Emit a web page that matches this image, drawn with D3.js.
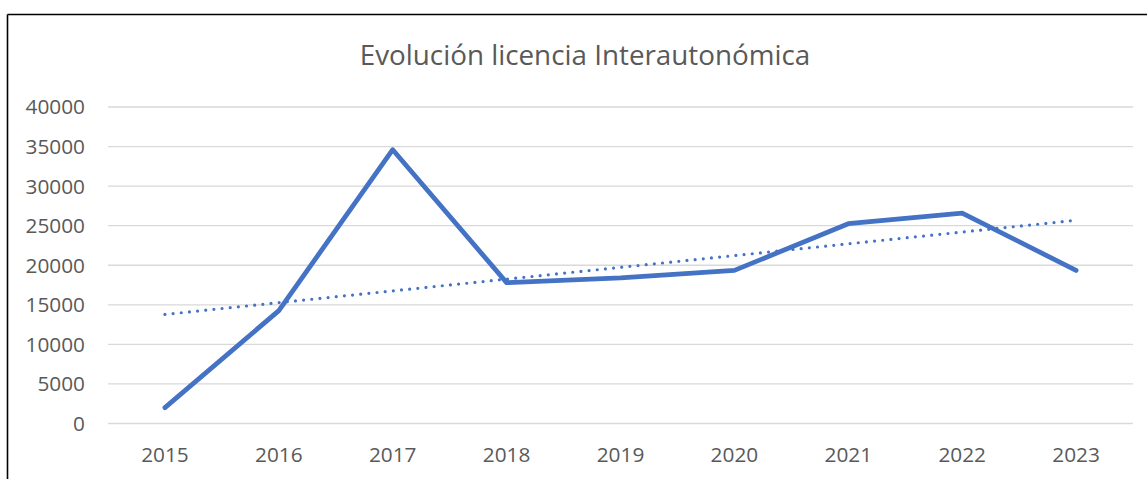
<!DOCTYPE html>
<html>
<head>
<meta charset="utf-8">
<script src="https://cdn.jsdelivr.net/npm/d3@7"></script>
<style>
  html, body { margin: 0; padding: 0; background: #fff; }
  svg { display: block; }
</style>
</head>
<body>
<div id="chart"></div>
<script>
// datos
const years = ["2015", "2016", "2017", "2018", "2019", "2020", "2021", "2022", "2023"];
const licencias = [2000, 14270, 34600, 17800, 18400, 19350, 25250, 26600, 19350];
const yTicks = [0, 5000, 10000, 15000, 20000, 25000, 30000, 35000, 40000];
const title = "Evolución licencia Interautonómica";

const width = 1147, height = 479;
const margin = { top: 107, right: 14, bottom: 55, left: 108 };
const blue = "#4472C4", grey = "#595959";

const svg = d3.select("#chart").append("svg")
    .attr("width", width)
    .attr("height", height)
    .style("font-family", "'Open Sans', sans-serif");

// marco (solo bordes superior e izquierdo visibles)
svg.append("line").attr("x1", 7.5).attr("x2", width).attr("y1", 14.5).attr("y2", 14.5)
    .attr("stroke", "#000").attr("stroke-width", 1.6);
svg.append("line").attr("x1", 7.5).attr("x2", 7.5).attr("y1", 14.5).attr("y2", height)
    .attr("stroke", "#000").attr("stroke-width", 1.6);

const x = d3.scaleBand().domain(years).range([margin.left, width - margin.right]);
const y = d3.scaleLinear().domain([0, 40000]).range([height - margin.bottom - 0.5, margin.top]);

// líneas de cuadrícula
svg.append("g")
  .selectAll("line")
  .data(yTicks)
  .join("line")
    .attr("x1", margin.left)
    .attr("x2", width - margin.right)
    .attr("y1", d => y(d))
    .attr("y2", d => y(d))
    .attr("stroke", "#d9d9d9")
    .attr("stroke-width", 1.3);

// etiquetas eje Y
svg.append("g")
  .selectAll("text")
  .data(yTicks)
  .join("text")
    .attr("x", 85)
    .attr("y", d => y(d))
    .attr("dy", "0.36em")
    .attr("text-anchor", "end")
    .attr("fill", grey)
    .style("font-size", "20.8px")
    .text(d => d);

// etiquetas eje X
svg.append("g")
  .selectAll("text")
  .data(years)
  .join("text")
    .attr("x", d => x(d) + x.bandwidth() / 2)
    .attr("y", 462)
    .attr("text-anchor", "middle")
    .attr("fill", grey)
    .style("font-size", "20.8px")
    .text(d => d);

// título
svg.append("text")
    .attr("x", 585)
    .attr("y", 65)
    .attr("text-anchor", "middle")
    .attr("fill", grey)
    .style("font-size", "27.8px")
    .text(title);

const cx = (d, i) => x(years[i]) + x.bandwidth() / 2;

// serie principal
const line = d3.line().x((d, i) => cx(d, i)).y(d => y(d));
svg.append("path")
    .datum(licencias)
    .attr("fill", "none")
    .attr("stroke", blue)
    .attr("stroke-width", 4.8)
    .attr("stroke-linejoin", "round")
    .attr("stroke-linecap", "round")
    .attr("d", line);

// línea de tendencia lineal (mínimos cuadrados)
const n = licencias.length;
const mx = d3.mean(licencias, (d, i) => i);
const my = d3.mean(licencias);
const slope = d3.sum(licencias, (d, i) => (i - mx) * (d - my)) / d3.sum(licencias, (d, i) => (i - mx) * (i - mx));
const icpt = my - slope * mx;
const trend = [0, n - 1].map(i => ({ i, v: icpt + slope * i }));

svg.append("path")
    .datum(trend)
    .attr("fill", "none")
    .attr("stroke", blue)
    .attr("stroke-width", 3.2)
    .attr("stroke-linecap", "round")
    .attr("stroke-dasharray", "0 8.2")
    .attr("d", d3.line().x(d => x(years[d.i]) + x.bandwidth() / 2).y(d => y(d.v)));
</script>
</body>
</html>
